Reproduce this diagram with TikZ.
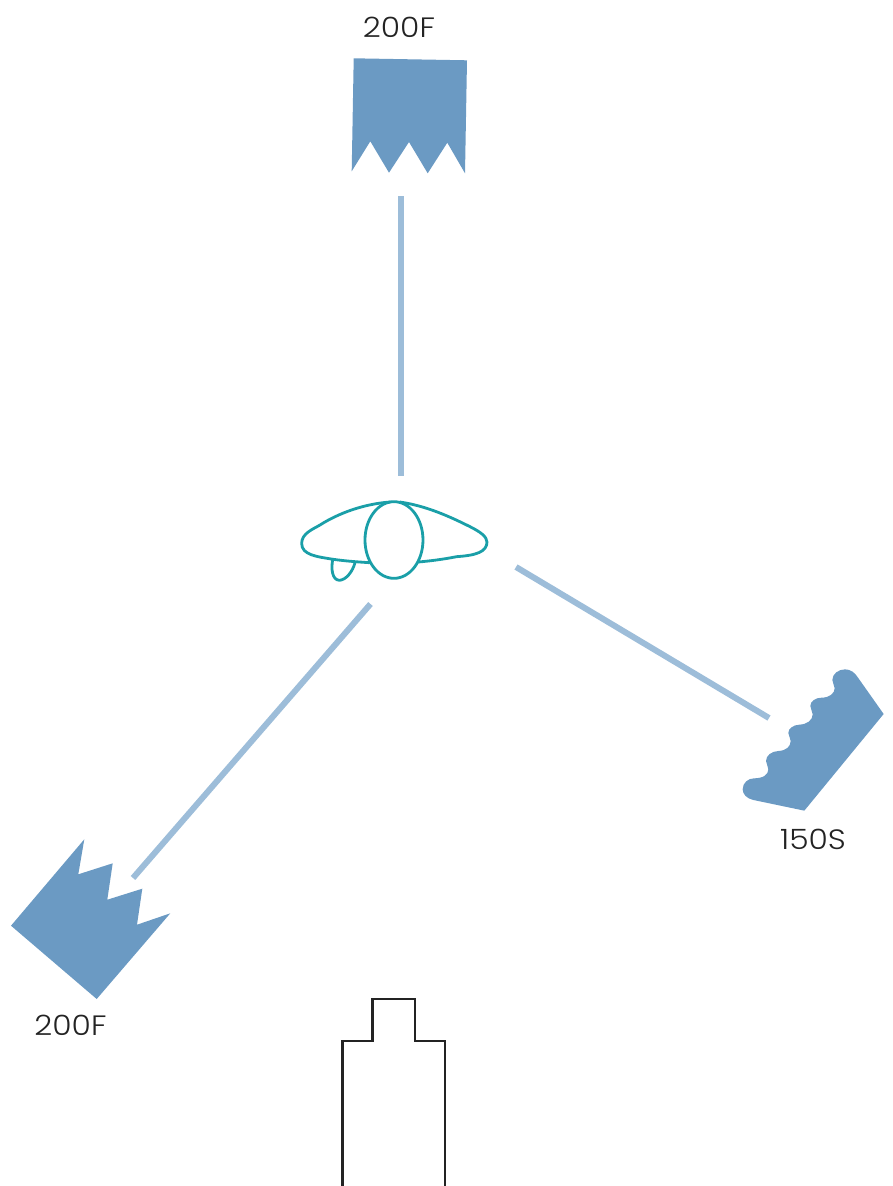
\documentclass[tikz,border=0pt]{standalone}
\usepackage{fontspec}
\setmainfont{Poppins}[UprightFont=* Light,FakeStretch=1.12]
\definecolor{lampblue}{HTML}{6B9AC3}
\definecolor{beamblue}{HTML}{9DBDD9}
\definecolor{subjteal}{HTML}{1A9FA8}
\definecolor{inkdark}{HTML}{232323}
\tikzset{
  lamp/.style={fill=lampblue,draw=none},
  beam/.style={draw=beamblue,line width=6pt},
  subj/.style={draw=subjteal,line width=2.8pt,line join=round,line cap=round},
  cam/.style={draw=inkdark,line width=2.8pt},
  lbl/.style={text=inkdark,font=\fontsize{28}{28}\selectfont,inner sep=0pt}
}
\begin{document}
\begin{tikzpicture}[x=1pt,y=-1pt]
\useasboundingbox (0,0) rectangle (892,1186);
% lamps
\fill[lamp] (353.7,58.3) -- (467,60.3) -- (465,173.3) -- (447.3,142.7) -- (427.7,173.3) -- (409,142) -- (389,172.7) -- (370.3,141.3) -- (351.7,171.3) -- cycle;
\fill[lamp] (84.3,839.3) -- (78.3,874.3) -- (112.7,863.3) -- (107.3,899.7) -- (142.3,888.7) -- (137,924.7) -- (170.3,913.3) -- (96.7,999) -- (11,925.7) -- cycle;
\begin{scope}[shift={(730,660)},x=0.3333pt,y=-0.3333pt]
\fill[lamp] (461,162) -- (223,452) -- (70,420)
  .. controls (50,416) and (38,402) .. (38,388)
  .. controls (38,368) and (55,355) .. (72,355)
  .. controls (98,355) and (115,345) .. (115,328)
  .. controls (115,318) and (108,312) .. (108,303)
  .. controls (108,286) and (125,274) .. (145,273)
  .. controls (168,272) and (182,260) .. (182,243)
  .. controls (182,233) and (175,228) .. (175,219)
  .. controls (175,205) and (190,195) .. (208,194)
  .. controls (232,193) and (248,180) .. (248,163)
  .. controls (248,153) and (241,148) .. (241,138)
  .. controls (241,124) and (256,113) .. (275,113)
  .. controls (298,113) and (314,100) .. (314,85)
  .. controls (314,75) and (307,70) .. (307,60)
  .. controls (307,42) and (325,28) .. (345,28)
  .. controls (362,28) and (374,38) .. (382,50)
  -- cycle;
\end{scope}
% beams
\coordinate (topA) at (400.5,196);
\coordinate (topB) at (400.5,476);
\coordinate (rightA) at (516,567);
\coordinate (rightB) at (769,718);
\coordinate (leftA) at (370.5,604);
\coordinate (leftB) at (133,878);
\draw[beam] (topA) -- (topB);
\draw[beam] (rightA) -- (rightB);
\draw[beam] (leftA) -- (leftB);
% subject
\begin{scope}[shift={(280,480)},x=0.3333pt,y=-0.3333pt]
\draw[subj] (330,66) .. controls (250,72) and (175,100) .. (120,135)
  .. controls (100,147) and (65,160) .. (65,190)
  .. controls (65,225) and (110,230) .. (160,238)
  .. controls (195,243) and (235,246) .. (268,248);
\draw[subj] (360,66) .. controls (440,78) and (510,110) .. (570,140)
  .. controls (600,155) and (621,170) .. (621,186)
  .. controls (621,215) and (590,226) .. (530,230)
  .. controls (490,238) and (450,243) .. (415,246);
\draw[subj] (158,240) .. controls (153,265) and (156,300) .. (178,301)
  .. controls (198,300) and (218,275) .. (225,248);
\draw[subj] (342,180) ellipse [x radius=87,y radius=115];
\end{scope}
% camera
\draw[cam] (342.5,1186) -- (342.5,1041) -- (372.5,1041) -- (372.5,999) -- (415,999) -- (415,1041) -- (445,1041) -- (445,1186);
% labels
\node[lbl] (labelTop) at (399,27) {200F};
\node[lbl] (labelLeft) at (70.5,1025) {200F};
\node[lbl] (labelRight) at (813,839) {150S};
\end{tikzpicture}
\end{document}
